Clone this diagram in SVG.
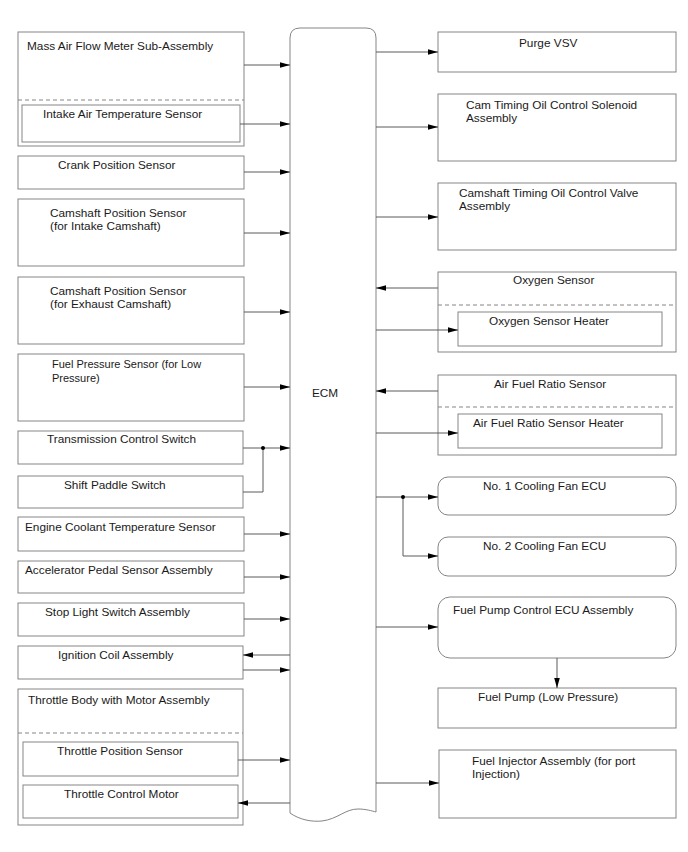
<svg xmlns="http://www.w3.org/2000/svg" width="688" height="852" viewBox="0 0 688 852">
<style>
.box{fill:#fff;stroke:#858585;stroke-width:1}
.dash{stroke:#858585;stroke-width:1;stroke-dasharray:4 3;fill:none}
.t{font-family:"Liberation Sans",Arial,sans-serif;font-size:11.8px;fill:#1a1a1a}
.s{font-size:11px}
.c{stroke:#5a5a5a;stroke-width:1;fill:none}
.a{marker-end:url(#arr)}
</style>
<defs>
<marker id="arr" markerUnits="userSpaceOnUse" markerWidth="10" markerHeight="6" refX="10" refY="2.8" orient="auto">
<path d="M0,0 L10,2.8 L0,5.6 z" fill="#000"/>
</marker>
</defs>
<rect width="688" height="852" fill="#fff"/>

<g id="ecm">
<path class="box" d="M290,813 L290,38 Q290,28 300,28 L366,28 Q376,28 376,38 L376,812 C372,811 366,809 358,809 C345,809 338,819 322,821 C312,822 300,820 290,813 Z"/>
<text class="t" x="325" y="397" text-anchor="middle">ECM</text>
</g>

<g id="maf">
<rect class="box" x="18" y="32" width="226" height="114"/>
<line class="dash" x1="18" y1="100" x2="244" y2="100"/>
<text class="t" x="27" y="50">Mass Air Flow Meter Sub-Assembly</text>
</g>
<g id="iat">
<rect class="box" x="22" y="105" width="218" height="37"/>
<text class="t" x="43" y="118">Intake Air Temperature Sensor</text>
</g>
<g id="crank">
<rect class="box" x="18" y="156" width="226" height="33"/>
<text class="t" x="58" y="169">Crank Position Sensor</text>
</g>
<g id="cam-in">
<rect class="box" x="18" y="199" width="226" height="67"/>
<text class="t" x="50" y="217">Camshaft Position Sensor</text>
<text class="t" x="50" y="230">(for Intake Camshaft)</text>
</g>
<g id="cam-ex">
<rect class="box" x="18" y="277" width="226" height="67"/>
<text class="t" x="50" y="295">Camshaft Position Sensor</text>
<text class="t" x="50" y="308">(for Exhaust Camshaft)</text>
</g>
<g id="fps">
<rect class="box" x="18" y="354" width="226" height="67"/>
<text class="t s" x="52" y="368">Fuel Pressure Sensor (for Low</text>
<text class="t s" x="52" y="382">Pressure)</text>
</g>
<g id="tcs">
<rect class="box" x="18" y="431" width="225" height="33"/>
<text class="t" x="47" y="443">Transmission Control Switch</text>
</g>
<g id="sps">
<rect class="box" x="18" y="476" width="225" height="32"/>
<text class="t" x="64" y="489">Shift Paddle Switch</text>
</g>
<g id="ect">
<rect class="box" x="18" y="517" width="226" height="34"/>
<text class="t" x="25" y="531">Engine Coolant Temperature Sensor</text>
</g>
<g id="aps">
<rect class="box" x="18" y="561" width="226" height="32"/>
<text class="t" x="25" y="574">Accelerator Pedal Sensor Assembly</text>
</g>
<g id="sls">
<rect class="box" x="18" y="603" width="226" height="33"/>
<text class="t" x="45" y="616">Stop Light Switch Assembly</text>
</g>
<g id="ign">
<rect class="box" x="18" y="646" width="225" height="33"/>
<text class="t" x="58" y="659">Ignition Coil Assembly</text>
</g>
<g id="tb">
<rect class="box" x="18" y="689" width="225" height="136"/>
<line class="dash" x1="18" y1="733" x2="243" y2="733"/>
<text class="t" x="28" y="704">Throttle Body with Motor Assembly</text>
</g>
<g id="tps">
<rect class="box" x="23" y="742" width="215" height="34"/>
<text class="t" x="57" y="755">Throttle Position Sensor</text>
</g>
<g id="tcm">
<rect class="box" x="23" y="785" width="215" height="33"/>
<text class="t" x="64" y="798">Throttle Control Motor</text>
</g>

<g id="purge">
<rect class="box" x="438" y="32" width="238" height="40"/>
<text class="t" x="519" y="47">Purge VSV</text>
</g>
<g id="ctocs">
<rect class="box" x="438" y="94" width="238" height="67"/>
<text class="t" x="466" y="109">Cam Timing Oil Control Solenoid</text>
<text class="t" x="466" y="122">Assembly</text>
</g>
<g id="ctocv">
<rect class="box" x="438" y="183" width="238" height="67"/>
<text class="t" x="459" y="197">Camshaft Timing Oil Control Valve</text>
<text class="t" x="459" y="210">Assembly</text>
</g>
<g id="o2">
<rect class="box" x="438" y="272" width="238" height="80"/>
<line class="dash" x1="438" y1="305" x2="676" y2="305"/>
<text class="t" x="513" y="284">Oxygen Sensor</text>
</g>
<g id="o2h">
<rect class="box" x="458" y="312" width="204" height="34"/>
<text class="t" x="489" y="325">Oxygen Sensor Heater</text>
</g>
<g id="afr">
<rect class="box" x="438" y="375" width="238" height="80"/>
<line class="dash" x1="438" y1="407" x2="676" y2="407"/>
<text class="t" x="494" y="388">Air Fuel Ratio Sensor</text>
</g>
<g id="afrh">
<rect class="box" x="458" y="414" width="204" height="34"/>
<text class="t" x="473" y="427">Air Fuel Ratio Sensor Heater</text>
</g>
<g id="fan1">
<rect class="box" x="438" y="477" width="238" height="38" rx="10"/>
<text class="t" x="483" y="490">No. 1 Cooling Fan ECU</text>
</g>
<g id="fan2">
<rect class="box" x="438" y="537" width="238" height="39" rx="10"/>
<text class="t" x="483" y="550">No. 2 Cooling Fan ECU</text>
</g>
<g id="fpc">
<rect class="box" x="438" y="597" width="238" height="61" rx="12"/>
<text class="t" x="453" y="614">Fuel Pump Control ECU Assembly</text>
</g>
<g id="fp">
<rect class="box" x="438" y="688" width="238" height="40"/>
<text class="t" x="478" y="701">Fuel Pump (Low Pressure)</text>
</g>
<g id="inj">
<rect class="box" x="439" y="750" width="237" height="68"/>
<text class="t" x="472" y="765">Fuel Injector Assembly (for port</text>
<text class="t" x="472" y="778">Injection)</text>
</g>

<g id="connectors">
<line class="c a" x1="244" y1="65" x2="290" y2="65"/>
<line class="c a" x1="240" y1="124" x2="290" y2="124"/>
<line class="c a" x1="244" y1="172" x2="290" y2="172"/>
<line class="c a" x1="244" y1="233" x2="290" y2="233"/>
<line class="c a" x1="244" y1="312" x2="290" y2="312"/>
<line class="c a" x1="244" y1="387" x2="290" y2="387"/>
<line class="c a" x1="243" y1="448" x2="290" y2="448"/>
<path class="c" d="M243,492 H263 V448"/>
<circle cx="263" cy="448" r="2" fill="#000"/>
<line class="c a" x1="244" y1="534" x2="290" y2="534"/>
<line class="c a" x1="244" y1="577" x2="290" y2="577"/>
<line class="c a" x1="244" y1="619" x2="290" y2="619"/>
<line class="c a" x1="290" y1="655" x2="243" y2="655"/>
<line class="c a" x1="243" y1="670" x2="290" y2="670"/>
<line class="c a" x1="238" y1="760" x2="290" y2="760"/>
<line class="c a" x1="290" y1="803" x2="238" y2="803"/>

<line class="c a" x1="376" y1="52" x2="438" y2="52"/>
<line class="c a" x1="376" y1="127" x2="438" y2="127"/>
<line class="c a" x1="376" y1="217" x2="438" y2="217"/>
<line class="c a" x1="438" y1="288" x2="376" y2="288"/>
<line class="c a" x1="376" y1="330" x2="458" y2="330"/>
<line class="c a" x1="438" y1="391" x2="376" y2="391"/>
<line class="c a" x1="376" y1="433" x2="458" y2="433"/>
<line class="c a" x1="376" y1="497" x2="438" y2="497"/>
<path class="c a" d="M403,497 V556 H438"/>
<circle cx="403" cy="497" r="2" fill="#000"/>
<line class="c a" x1="376" y1="627" x2="438" y2="627"/>
<line class="c a" x1="557" y1="658" x2="557" y2="688"/>
<line class="c a" x1="376" y1="783" x2="439" y2="783"/>
</g>
</svg>
